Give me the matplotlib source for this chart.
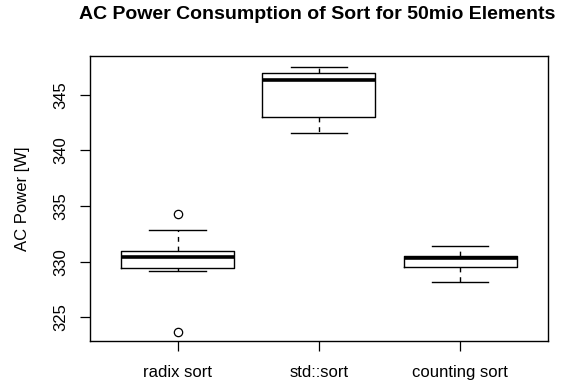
import matplotlib.pyplot as plt

plt.rcParams['font.family'] = ['Liberation Sans', 'DejaVu Sans']

# data (AC power in watts)
labels = ['radix sort', 'std::sort', 'counting sort']
whislo = [329.15, 341.6, 328.2]
q1 = [329.4, 343.0, 329.55]
med = [330.4, 346.3, 330.35]
q3 = [330.95, 347.0, 330.5]
whishi = [332.85, 347.55, 331.45]
fliers = [[334.25, 323.7], [], []]

stats = []
for i in range(len(labels)):
    stats.append(dict(label=labels[i], whislo=whislo[i], q1=q1[i], med=med[i],
                      q3=q3[i], whishi=whishi[i], fliers=fliers[i]))

fig = plt.figure(figsize=(5.62, 3.81), dpi=100)
ax = fig.add_axes([0.160, 0.105, 0.8146, 0.749])

ax.bxp(stats, positions=[1, 2, 3], widths=0.8, showfliers=True,
       boxprops=dict(color='black', linewidth=1),
       medianprops=dict(color='black', linewidth=2.6, solid_capstyle='butt'),
       whiskerprops=dict(color='black', linewidth=1, linestyle=(0, (3.5, 3.5))),
       capprops=dict(color='black', linewidth=1),
       flierprops=dict(marker='o', markersize=6, markerfacecolor='none',
                       markeredgecolor='black', markeredgewidth=0.9))

# R style axis limits: 4% padding
ax.set_xlim(0.38, 3.62)
ax.set_ylim(322.87, 348.53)
ax.set_yticks([325, 330, 335, 340, 345])
ax.set_yticklabels(['325', '330', '335', '340', '345'], rotation=90, va='center')
ax.tick_params(axis='both', labelsize=12, direction='out', length=7.5, width=0.9)
ax.tick_params(axis='x', pad=10)
ax.tick_params(axis='y', pad=8)
for s in ax.spines.values():
    s.set_linewidth(1)

ax.set_ylabel('AC Power [W]', fontsize=12, labelpad=17)
fig.text(0.5645, 0.950, 'AC Power Consumption of Sort for 50mio Elements',
         ha='center', va='baseline', fontsize=14, fontweight='bold')

fig.savefig('out.png', dpi=100)
